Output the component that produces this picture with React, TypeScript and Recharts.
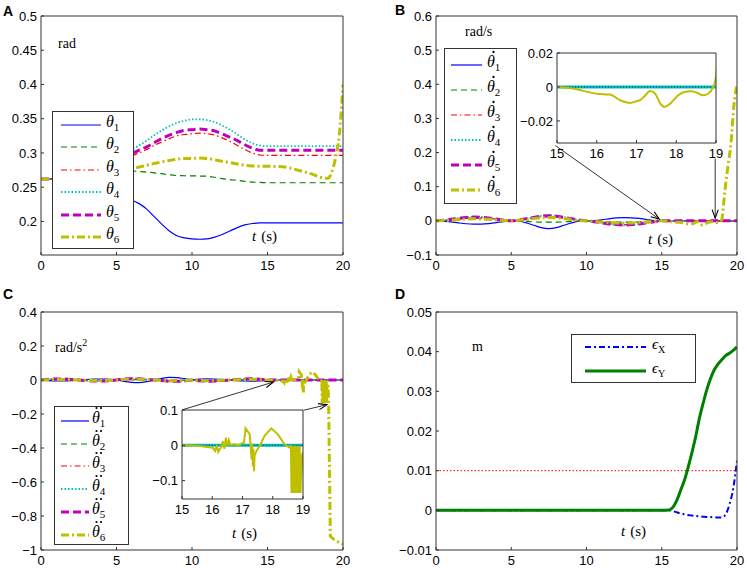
import React from 'react'
import { LineChart, Line, XAxis, YAxis, Legend, ReferenceLine } from 'recharts'

// shared time base (s)
const T = [0, 0.5, 1, 1.5, 2, 2.5, 3, 3.5, 4, 4.5, 5, 5.5, 6, 6.5, 7, 7.5, 8, 8.5, 9, 9.5, 10, 10.5, 11, 11.5, 12, 12.5, 13, 13.5, 14, 14.5, 15, 15.5, 16, 16.5, 17, 17.5, 18, 18.5, 19, 19.25, 19.5, 19.75, 20]

// A: joint angles (rad)
const TH1 = [0.262, 0.262, 0.261, 0.258, 0.254, 0.249, 0.244, 0.24, 0.237, 0.235, 0.234, 0.233, 0.231, 0.226, 0.218, 0.207, 0.196, 0.186, 0.179, 0.176, 0.1745, 0.174, 0.1745, 0.177, 0.181, 0.186, 0.191, 0.195, 0.197, 0.198, 0.198, 0.198, 0.198, 0.198, 0.198, 0.198, 0.198, 0.198, 0.198, 0.198, 0.198, 0.198, 0.198]
const TH2 = [0.262, 0.262, 0.263, 0.265, 0.267, 0.269, 0.271, 0.273, 0.274, 0.2745, 0.2745, 0.274, 0.2737, 0.273, 0.272, 0.271, 0.2697, 0.268, 0.267, 0.2667, 0.2665, 0.2663, 0.266, 0.2645, 0.2625, 0.261, 0.26, 0.2585, 0.2575, 0.257, 0.2565, 0.2565, 0.2565, 0.2565, 0.2565, 0.2565, 0.2565, 0.2565, 0.2565, 0.2565, 0.2565, 0.2565, 0.2565]
const TH3 = [0.262, 0.262, 0.263, 0.266, 0.27, 0.275, 0.28, 0.284, 0.287, 0.289, 0.29, 0.292, 0.296, 0.3, 0.305, 0.311, 0.316, 0.321, 0.325, 0.327, 0.328, 0.329, 0.328, 0.326, 0.322, 0.317, 0.311, 0.305, 0.3, 0.297, 0.2965, 0.2965, 0.2965, 0.2965, 0.2965, 0.2965, 0.2965, 0.2965, 0.2965, 0.2965, 0.2965, 0.2965, 0.2965]
const TH4 = [0.262, 0.262, 0.264, 0.268, 0.273, 0.279, 0.284, 0.289, 0.293, 0.296, 0.297, 0.3, 0.305, 0.311, 0.318, 0.326, 0.333, 0.339, 0.344, 0.347, 0.349, 0.349, 0.348, 0.345, 0.34, 0.334, 0.327, 0.32, 0.314, 0.311, 0.31, 0.31, 0.31, 0.31, 0.31, 0.31, 0.31, 0.31, 0.31, 0.31, 0.31, 0.31, 0.31]
const TH5 = [0.262, 0.262, 0.263, 0.267, 0.271, 0.276, 0.281, 0.285, 0.289, 0.291, 0.292, 0.295, 0.299, 0.304, 0.309, 0.315, 0.321, 0.326, 0.33, 0.333, 0.334, 0.335, 0.334, 0.332, 0.328, 0.323, 0.318, 0.312, 0.307, 0.304, 0.304, 0.304, 0.304, 0.304, 0.304, 0.304, 0.304, 0.304, 0.304, 0.304, 0.304, 0.304, 0.304]
const TH6 = [0.262, 0.262, 0.263, 0.265, 0.267, 0.269, 0.271, 0.273, 0.274, 0.2745, 0.275, 0.276, 0.277, 0.2795, 0.282, 0.2845, 0.287, 0.289, 0.291, 0.292, 0.292, 0.2925, 0.292, 0.29, 0.288, 0.286, 0.284, 0.282, 0.281, 0.2805, 0.2805, 0.2803, 0.28, 0.278, 0.275, 0.272, 0.2687, 0.2645, 0.263, 0.272, 0.292, 0.325, 0.4]

// B: joint velocities (rad/s)
const DTH1 = [0, -0.0005, -0.003, -0.006, -0.0085, -0.0097, -0.0095, -0.008, -0.005, -0.002, -0.0003, -0.001, -0.006, -0.013, -0.02, -0.0225, -0.02, -0.013, -0.006, -0.001, 0, 0.001, 0.003, 0.006, 0.0085, 0.0097, 0.009, 0.007, 0.004, 0.001, 0, 0, 0, 0, 0, 0, 0, 0, 0, 0, 0, 0, 0]
const DTH2 = [0, 0.001, 0.003, 0.005, 0.007, 0.008, 0.0075, 0.006, 0.004, 0.0015, 0, -0.0005, -0.0015, -0.003, -0.0038, -0.004, -0.0038, -0.003, -0.0015, -0.0005, 0, -0.0005, -0.0015, -0.003, -0.0038, -0.004, -0.0038, -0.003, -0.0015, -0.0005, 0, 0, 0, 0, 0, 0, 0, 0, 0, 0, 0, 0, 0]
const DTH3 = [0, 0.0015, 0.004, 0.007, 0.009, 0.01, 0.0095, 0.0075, 0.005, 0.002, 0, 0.002, 0.005, 0.008, 0.011, 0.012, 0.011, 0.008, 0.005, 0.002, 0, -0.002, -0.005, -0.008, -0.01, -0.011, -0.01, -0.008, -0.005, -0.002, 0, 0, 0, 0, 0, 0, 0, 0, 0, 0, 0, 0, 0]
const DTH4 = [0, 0.002, 0.005, 0.008, 0.011, 0.012, 0.0115, 0.009, 0.006, 0.0025, 0, 0.0025, 0.007, 0.011, 0.0145, 0.016, 0.0145, 0.011, 0.007, 0.0025, 0, -0.0025, -0.006, -0.0095, -0.012, -0.013, -0.012, -0.0095, -0.006, -0.0025, 0, 0, 0, 0, 0, 0, 0, 0, 0, 0, 0, 0, 0]
const DTH5 = [0, 0.0018, 0.0045, 0.0075, 0.01, 0.011, 0.0105, 0.0085, 0.0055, 0.0022, 0, 0.0023, 0.0065, 0.01, 0.0135, 0.015, 0.0135, 0.01, 0.0065, 0.0023, 0, -0.0023, -0.0055, -0.009, -0.011, -0.012, -0.011, -0.009, -0.0055, -0.0023, 0, 0, 0, 0, 0, 0, 0, 0, 0, 0, 0, 0, 0]
const DTH6_T = [...T.slice(0, 30), 15, 15.42, 16, 16.33, 16.6, 16.84, 17, 17.09, 17.2, 17.34, 17.47, 17.6, 17.7, 17.85, 18.05, 18.18, 18.39, 18.51, 18.68, 18.8, 18.93, 19, 19.1, 19.2, 19.4, 19.6, 19.8, 19.9, 20]
const DTH6 = [0, 0.001, 0.002, 0.004, 0.0055, 0.006, 0.0057, 0.0045, 0.003, 0.001, 0, 0.0015, 0.004, 0.007, 0.009, 0.01, 0.009, 0.007, 0.004, 0.0015, 0, -0.0015, -0.0035, -0.005, -0.006, -0.0065, -0.006, -0.005, -0.0035, -0.0015,
  0, -0.001, -0.004, -0.0045, -0.008, -0.0094, -0.0084, -0.0078, -0.0055, -0.0024, -0.004, -0.0098, -0.0118, -0.0098, -0.0049, -0.0031, -0.0025, -0.0033, -0.0049, -0.004, 0, 0.006, 0.045, 0.09, 0.16, 0.228, 0.34, 0.375, 0.4]

// C: joint accelerations (rad/s^2)
const DDTH1 = [0, -0.004, -0.006, -0.006, -0.004, 0, 0.003, 0.005, 0.006, 0.004, 0.001, -0.008, -0.014, -0.016, -0.01, 0, 0.01, 0.016, 0.014, 0.008, 0.002, 0.005, 0.007, 0.006, 0.004, 0, -0.004, -0.006, -0.007, -0.005, -0.002, 0, 0, 0, 0, 0, 0, 0, 0, 0, 0, 0, 0]
const DDTH2 = [0, 0.003, 0.004, 0.003, 0.002, 0, -0.002, -0.003, -0.004, -0.003, 0, 0.001, 0.002, 0.002, 0.001, 0, -0.001, -0.002, -0.002, -0.001, 0, -0.001, -0.002, -0.002, -0.001, 0, 0.001, 0.002, 0.002, 0.001, 0, 0, 0, 0, 0, 0, 0, 0, 0, 0, 0, 0, 0]
const DDTH3 = [0, 0.004, 0.006, 0.005, 0.003, 0, -0.003, -0.005, -0.006, -0.004, 0, 0.005, 0.007, 0.006, 0.003, 0, -0.003, -0.006, -0.007, -0.005, 0, -0.004, -0.006, -0.005, -0.003, 0, 0.003, 0.005, 0.006, 0.004, 0, 0, 0, 0, 0, 0, 0, 0, 0, 0, 0, 0, 0]
const DDTH4 = [0, 0.005, 0.007, 0.006, 0.004, 0, -0.004, -0.006, -0.007, -0.005, 0, 0.006, 0.009, 0.008, 0.004, 0, -0.004, -0.008, -0.009, -0.006, 0, -0.005, -0.008, -0.007, -0.004, 0, 0.004, 0.007, 0.008, 0.005, 0, 0, 0, 0, 0, 0, 0, 0, 0, 0, 0, 0, 0]
const DDTH5 = [0, 0.0045, 0.0065, 0.0055, 0.0035, 0, -0.0035, -0.0055, -0.0065, -0.0045, 0, 0.0055, 0.008, 0.007, 0.0035, 0, -0.0035, -0.007, -0.008, -0.0055, 0, -0.0045, -0.007, -0.006, -0.0035, 0, 0.0035, 0.006, 0.007, 0.0045, 0, 0, 0, 0, 0, 0, 0, 0, 0, 0, 0, 0, 0]
const DDTH6_T = [...T.slice(0, 30), 15, 15.58, 16.02, 16.1, 16.15, 16.2, 16.3, 16.35, 16.4, 16.45, 16.5, 16.55, 16.6, 16.74, 16.85, 17.05, 17.1, 17.24, 17.3, 17.32, 17.34, 17.36, 17.38, 17.4, 17.46, 17.57, 17.73, 17.95, 18.17, 18.39, 18.56, 18.6, 18.62, 18.65, 18.68, 18.71, 18.74, 18.77, 18.8, 18.83, 18.86, 18.89, 18.92, 18.95, 19, 19.05, 19.16, 19.5, 19.82, 20]
const DDTH6 = [0, 0.002, 0.003, 0.003, 0.002, 0, -0.002, -0.003, -0.003, -0.002, 0, 0.003, 0.005, 0.004, 0.002, 0, -0.002, -0.004, -0.005, -0.003, 0, -0.002, -0.004, -0.003, -0.002, 0, 0.002, 0.003, 0.004, 0.002,
  0, -0.002, -0.007, -0.016, 0, -0.019, -0.004, 0.012, -0.01, 0.022, -0.003, 0.015, 0.001, 0.003, 0, 0.008, 0.048, 0.031, -0.04, 0.005, -0.06, -0.01, -0.073, -0.03, -0.016, -0.002, 0.027, 0.048, 0.031, 0.003, -0.007, 0, -0.135, -0.002, -0.135, -0.002, -0.135, -0.002, -0.135, -0.002, -0.135, -0.002, -0.135, -0.03, -0.02, -0.14, -0.92, -0.945, -0.959, -0.965]

// D: end-effector error (m)
const TD = [0, 5, 10, 15, 15.5, 15.75, 16, 16.25, 16.5, 16.75, 17, 17.25, 17.5, 17.75, 18, 18.25, 18.5, 18.75, 19, 19.25, 19.5, 19.75, 20]
const ERR_X = [0, 0, 0, 0, 0, -0.0002, -0.0005, -0.0008, -0.001, -0.0012, -0.0013, -0.0014, -0.0015, -0.0016, -0.0017, -0.0017, -0.0018, -0.0018, -0.0018, -0.001, 0.0015, 0.0055, 0.0125]
const ERR_Y = [0, 0, 0, 0, 0.0001, 0.0008, 0.0025, 0.005, 0.0075, 0.0108, 0.0145, 0.0185, 0.0232, 0.027, 0.0305, 0.0333, 0.0355, 0.0369, 0.038, 0.039, 0.0396, 0.0403, 0.0412]
const ERR_LIMIT = 0.01

const X_TICKS = [0, 5, 10, 15, 20]
const INSET_X_TICKS = [15, 16, 17, 18, 19]
const A_Y_TICKS = [0.2, 0.25, 0.3, 0.35, 0.4, 0.45, 0.5]
const B_Y_TICKS = [-0.1, 0, 0.1, 0.2, 0.3, 0.4, 0.5, 0.6]
const C_Y_TICKS = [-1, -0.8, -0.6, -0.4, -0.2, 0, 0.2, 0.4]
const D_Y_TICKS = [-0.01, 0, 0.01, 0.02, 0.03, 0.04, 0.05]
const B_INSET_Y_TICKS = [-0.02, 0, 0.02]
const C_INSET_Y_TICKS = [-0.1, 0, 0.1]
const JOINT_SUBS = ['1', '2', '3', '4', '5', '6']
const ERR_SUBS = ['X', 'Y']

// annotation arrows (inset corner -> zoomed region), in data units
const B_ARROWS = [
  [{ x: 7.93, y: 0.2206 }, { x: 14.84, y: 0.005 }],
  [{ x: 18.55, y: 0.182 }, { x: 18.55, y: 0.008 }],
]
const C_ARROWS = [
  [{ x: 9.37, y: -0.175 }, { x: 15.4, y: -0.012 }],
  [{ x: 17.39, y: -0.178 }, { x: 18.94, y: -0.145 }],
]

const AXIS = '#333'
const SANS = '"Liberation Sans", Arial, sans-serif'
const SERIF = '"Liberation Serif", "Times New Roman", serif'
const TICK = { fill: '#000', fontSize: 13, fontFamily: SANS }

type Style = { color: string; width: number; dash?: string }

const JOINT_STYLES: Style[] = [
  { color: '#0000ff', width: 1.2 },
  { color: '#008000', width: 1.2, dash: '6 4' },
  { color: '#ff0000', width: 1.2, dash: '6 3 1.5 3' },
  { color: '#00bfbf', width: 1.8, dash: '1.5 2' },
  { color: '#bf00bf', width: 3, dash: '8 4' },
  { color: '#bfbf00', width: 3, dash: '8 3 2 3' },
]
const INSET_STYLES: Style[] = [
  { color: '#0000ff', width: 1 },
  { color: '#008000', width: 1 },
  { color: '#ff0000', width: 1 },
  { color: '#00bfbf', width: 3 },
  { color: '#bf00bf', width: 1 },
  { color: '#bfbf00', width: 2 },
]
const ERR_STYLES: Style[] = [
  { color: '#0000ff', width: 2, dash: '6 3 2 3' },
  { color: '#007f00', width: 3 },
]

const fmt = (v: number) => String(v).replace('-', '\u2212')

const rowsA = T.map((t, i) => ({ t, s1: TH1[i], s2: TH2[i], s3: TH3[i], s4: TH4[i], s5: TH5[i], s6: TH6[i] }))
const rowsB = T.map((t, i) => ({ t, s1: DTH1[i], s2: DTH2[i], s3: DTH3[i], s4: DTH4[i], s5: DTH5[i] }))
const rowsB6 = DTH6_T.map((t, i) => ({ t, s6: DTH6[i] }))
const rowsC = T.map((t, i) => ({ t, s1: DDTH1[i], s2: DDTH2[i], s3: DDTH3[i], s4: DDTH4[i], s5: DDTH5[i] }))
const rowsC6 = DDTH6_T.map((t, i) => ({ t, s6: DDTH6[i] }))
const rowsD = TD.map((t, i) => ({ t, ex: ERR_X[i], ey: ERR_Y[i] }))

const KEYS = ['s1', 's2', 's3', 's4', 's5']

// box with inward ticks on all four sides, like a matlab axes
function frame(xd: number[], xt: number[], yd: number[], yt: number[], yw: number, xh: number) {
  return [
    <XAxis key="xb" type="number" dataKey="t" domain={xd} ticks={xt} interval={0} allowDataOverflow height={xh}
      stroke={AXIS} tickSize={-3} tickMargin={9} tick={TICK} tickFormatter={fmt} />,
    <XAxis key="xt" xAxisId="top" orientation="top" type="number" dataKey="t" domain={xd} ticks={xt} interval={0}
      allowDataOverflow height={1} stroke={AXIS} tickSize={-3} tick={false} />,
    <YAxis key="yl" type="number" domain={yd} ticks={yt} interval={0} allowDataOverflow width={yw}
      stroke={AXIS} tickSize={-3} tickMargin={7} tick={TICK} tickFormatter={fmt} />,
    <YAxis key="yr" yAxisId="r" orientation="right" type="number" domain={yd} ticks={yt} interval={0}
      allowDataOverflow width={1} stroke={AXIS} tickSize={-3} tick={false} />,
  ]
}

const Arrow = (props: any) => {
  const { x1, y1, x2, y2 } = props
  const a = Math.atan2(y2 - y1, x2 - x1)
  const len = 9
  const p1 = `${x2 - len * Math.cos(a - 0.35)},${y2 - len * Math.sin(a - 0.35)}`
  const p2 = `${x2 - len * Math.cos(a + 0.35)},${y2 - len * Math.sin(a + 0.35)}`
  return (
    <g>
      <line x1={x1} y1={y1} x2={x2} y2={y2} stroke="#000" strokeWidth={0.8} />
      <polyline points={`${p1} ${x2},${y2} ${p2}`} fill="none" stroke="#000" strokeWidth={1.1} />
    </g>
  )
}

type LegendSpec = {
  first: number; gap: number; lineX: number; lineW: number; textX: number
  symbol: string; dots?: number; subs: string[]; styles: Style[]; size: number
}

function makeLegend(spec: LegendSpec) {
  return (props: any) => {
    const payload = props.payload ?? []
    const dots = spec.dots ?? 0
    return (
      <div style={{ position: 'relative', width: '100%', height: '100%', boxSizing: 'border-box', border: `1px solid ${AXIS}`, background: '#fff' }}>
        {payload.map((_: any, i: number) => {
          const s = spec.styles[i]
          const cy = spec.first + i * spec.gap
          return (
            <div key={i} style={{ position: 'absolute', left: 0, top: cy - 10, height: 20, width: '100%' }}>
              <svg width={spec.lineW} height={20} style={{ position: 'absolute', left: spec.lineX, top: 0 }}>
                <line x1={0} y1={10} x2={spec.lineW} y2={10} stroke={s.color} strokeWidth={s.width} strokeDasharray={s.dash} />
              </svg>
              {dots > 0 && (
                <svg width={12} height={6} style={{ position: 'absolute', left: spec.textX, top: -6 }}>
                  {dots === 1
                    ? <circle cx={6.5} cy={3} r={1.15} fill="#000" />
                    : [<circle key="a" cx={4.5} cy={3} r={1.1} fill="#000" />, <circle key="b" cx={9} cy={3} r={1.1} fill="#000" />]}
                </svg>
              )}
              <span style={{ position: 'absolute', left: spec.textX, top: -3, lineHeight: '20px', fontFamily: SERIF, fontSize: spec.size, fontStyle: 'italic', color: '#000', whiteSpace: 'nowrap' }}>
                {spec.symbol}
                <span style={{ fontStyle: 'normal', fontSize: Math.round(spec.size * 0.68), position: 'relative', top: 4 }}>{spec.subs[i]}</span>
              </span>
            </div>
          )
        })}
      </div>
    )
  }
}

const legendBox = (left: number, top: number, width: number, height: number) =>
  ({ position: 'absolute' as const, left, top, width, height, margin: 0, padding: 0 })

export default function App() {
  return (
    <div style={{ position: 'absolute', left: 0, top: 0, width: 747, height: 568, background: '#fff', overflow: 'hidden' }}>
      {/* A */}
      <div style={{ position: 'absolute', left: 0, top: 0 }}>
        <LineChart width={373} height={284} data={rowsA} margin={{ top: 15, right: 29, bottom: 0, left: 0 }}>
          {frame([0, 20], X_TICKS, [0.151, 0.5], A_Y_TICKS, 41, 29)}
          {[...KEYS, 's6'].map((k, i) => (
            <Line key={k} type="monotone" dataKey={k} stroke={JOINT_STYLES[i].color} strokeWidth={JOINT_STYLES[i].width}
              strokeDasharray={JOINT_STYLES[i].dash} dot={false} isAnimationActive={false} />
          ))}
          <Legend layout="vertical" align="center" verticalAlign="middle" wrapperStyle={legendBox(52, 111, 82, 138)}
            content={makeLegend({ first: 12.5, gap: 22.5, lineX: 8, lineW: 40, textX: 53, symbol: '\u03b8', subs: JOINT_SUBS, styles: JOINT_STYLES, size: 16 })} />
        </LineChart>
      </div>

      {/* B */}
      <div style={{ position: 'absolute', left: 373, top: 0 }}>
        <LineChart width={374} height={284} data={rowsB} margin={{ top: 15, right: 9, bottom: 0, left: 0 }}>
          {frame([0, 20], X_TICKS, [-0.1, 0.6], B_Y_TICKS, 63, 29)}
          {KEYS.map((k, i) => (
            <Line key={k} type="monotone" dataKey={k} stroke={JOINT_STYLES[i].color} strokeWidth={JOINT_STYLES[i].width}
              strokeDasharray={JOINT_STYLES[i].dash} dot={false} isAnimationActive={false} />
          ))}
          <Line type="monotone" data={rowsB6} dataKey="s6" stroke={JOINT_STYLES[5].color} strokeWidth={JOINT_STYLES[5].width}
            strokeDasharray={JOINT_STYLES[5].dash} dot={false} isAnimationActive={false} />
          {B_ARROWS.map((seg, i) => (
            <ReferenceLine key={i} segment={seg} ifOverflow="visible" shape={Arrow} />
          ))}
          <Legend layout="vertical" align="center" verticalAlign="middle" wrapperStyle={legendBox(71, 48, 73, 156)}
            content={makeLegend({ first: 16, gap: 25, lineX: 6, lineW: 31, textX: 42, symbol: '\u03b8', dots: 1, subs: JOINT_SUBS, styles: JOINT_STYLES, size: 16 })} />
        </LineChart>
      </div>

      {/* B inset */}
      <div style={{ position: 'absolute', left: 500, top: 40 }}>
        <LineChart width={227} height={123} data={rowsB} margin={{ top: 12, right: 10, bottom: 0, left: 0 }}>
          {frame([15, 19], INSET_X_TICKS, [-0.033, 0.02], B_INSET_Y_TICKS, 57, 20)}
          {[0, 1, 2, 4, 3].map(i => (
            <Line key={i} type="monotone" dataKey={KEYS[i]} stroke={INSET_STYLES[i].color} strokeWidth={INSET_STYLES[i].width}
              dot={false} isAnimationActive={false} />
          ))}
          <Line type="monotone" dataKey="s1" stroke="#003366" strokeWidth={1} strokeDasharray="1 2" dot={false} isAnimationActive={false} />
          <Line type="monotone" data={rowsB6} dataKey="s6" stroke={INSET_STYLES[5].color} strokeWidth={INSET_STYLES[5].width}
            dot={false} isAnimationActive={false} />
        </LineChart>
      </div>

      {/* C */}
      <div style={{ position: 'absolute', left: 0, top: 284 }}>
        <LineChart width={373} height={284} data={rowsC} margin={{ top: 27, right: 29, bottom: 0, left: 0 }}>
          {frame([0, 20], X_TICKS, [-1, 0.4], C_Y_TICKS, 41, 18)}
          {KEYS.map((k, i) => (
            <Line key={k} type="monotone" dataKey={k} stroke={JOINT_STYLES[i].color} strokeWidth={JOINT_STYLES[i].width}
              strokeDasharray={JOINT_STYLES[i].dash} dot={false} isAnimationActive={false} />
          ))}
          <Line type="linear" data={rowsC6} dataKey="s6" stroke={JOINT_STYLES[5].color} strokeWidth={JOINT_STYLES[5].width}
            strokeDasharray={JOINT_STYLES[5].dash} dot={false} isAnimationActive={false} />
          {C_ARROWS.map((seg, i) => (
            <ReferenceLine key={i} segment={seg} ifOverflow="visible" shape={Arrow} />
          ))}
          <Legend layout="vertical" align="center" verticalAlign="middle" wrapperStyle={legendBox(54, 122, 75, 139)}
            content={makeLegend({ first: 14, gap: 22.7, lineX: 6, lineW: 28, textX: 37, symbol: '\u03b8', dots: 2, subs: JOINT_SUBS, styles: JOINT_STYLES, size: 16 })} />
        </LineChart>
      </div>

      {/* C inset */}
      <div style={{ position: 'absolute', left: 130, top: 400 }}>
        <LineChart width={184} height={119} data={rowsC} margin={{ top: 9, right: 10, bottom: 0, left: 0 }}>
          {frame([15, 19], INSET_X_TICKS, [-0.152, 0.1], C_INSET_Y_TICKS, 52, 20)}
          {[0, 1, 2, 4, 3].map(i => (
            <Line key={i} type="monotone" dataKey={KEYS[i]} stroke={INSET_STYLES[i].color} strokeWidth={INSET_STYLES[i].width}
              dot={false} isAnimationActive={false} />
          ))}
          <Line type="monotone" dataKey="s1" stroke="#003366" strokeWidth={1} strokeDasharray="1 2" dot={false} isAnimationActive={false} />
          <Line type="linear" data={rowsC6} dataKey="s6" stroke={INSET_STYLES[5].color} strokeWidth={INSET_STYLES[5].width}
            dot={false} isAnimationActive={false} />
        </LineChart>
      </div>

      {/* D */}
      <div style={{ position: 'absolute', left: 373, top: 284 }}>
        <LineChart width={374} height={284} data={rowsD} margin={{ top: 27, right: 9, bottom: 0, left: 0 }}>
          {frame([0, 20], X_TICKS, [-0.01, 0.05], D_Y_TICKS, 63, 18)}
          <ReferenceLine y={ERR_LIMIT} stroke="#ff0000" strokeWidth={1} strokeDasharray="1.5 2" />
          <Line type="monotone" dataKey="ex" stroke={ERR_STYLES[0].color} strokeWidth={ERR_STYLES[0].width}
            strokeDasharray={ERR_STYLES[0].dash} dot={false} isAnimationActive={false} />
          <Line type="monotone" dataKey="ey" stroke={ERR_STYLES[1].color} strokeWidth={ERR_STYLES[1].width}
            dot={false} isAnimationActive={false} />
          <Legend layout="vertical" align="center" verticalAlign="middle" wrapperStyle={legendBox(198, 50, 125, 49)}
            content={makeLegend({ first: 12, gap: 24.3, lineX: 13, lineW: 61, textX: 80, symbol: '\u03f5', subs: ERR_SUBS, styles: ERR_STYLES, size: 15 })} />
        </LineChart>
      </div>

      {/* panel letters, units and axis captions */}
      <svg width={747} height={568} style={{ position: 'absolute', left: 0, top: 0, pointerEvents: 'none' }}>
        <g fontFamily={SANS} fontWeight="bold" fontSize={14} fill="#000">
          <text x={3} y={16}>A</text>
          <text x={395} y={15}>B</text>
          <text x={3} y={299}>C</text>
          <text x={395} y={299}>D</text>
        </g>
        <g fontFamily={SERIF} fontSize={14} fill="#000">
          <text x={58} y={48}>rad</text>
          <text x={465} y={36}>rad/s</text>
          <text x={55} y={352}>rad/s<tspan dy={-6} fontSize={10}>2</tspan></text>
          <text x={472} y={351}>m</text>
        </g>
        <g fontFamily={SERIF} fontSize={15} fill="#000">
          <text x={252} y={241}><tspan fontStyle="italic">t</tspan><tspan dx={5}>(s)</tspan></text>
          <text x={648} y={244}><tspan fontStyle="italic">t</tspan><tspan dx={5}>(s)</tspan></text>
          <text x={232} y={538}><tspan fontStyle="italic">t</tspan><tspan dx={5}>(s)</tspan></text>
          <text x={621} y={536}><tspan fontStyle="italic">t</tspan><tspan dx={5}>(s)</tspan></text>
        </g>
      </svg>
    </div>
  )
}
